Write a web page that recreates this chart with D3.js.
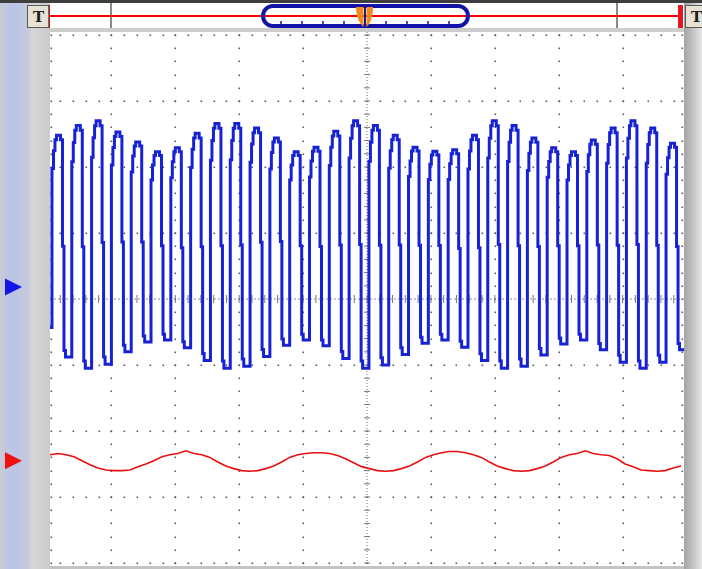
<!DOCTYPE html>
<html>
<head>
<meta charset="utf-8">
<script src="https://cdn.jsdelivr.net/npm/d3@7"></script>
<style>
  html, body { margin: 0; padding: 0; background: #d0d0d0; }
  svg { display: block; }
</style>
</head>
<body>
<svg id="scope" width="702" height="569"></svg>
<script>
// Channel A (blue): one entry per pulse, divisions relative to the channel marker
const pulseRise = [0.07, 0.38, 0.69, 1.00, 1.31, 1.62, 1.93, 2.24, 2.55, 2.86, 3.17, 3.48, 3.79, 4.10, 4.41, 4.72,
  5.03, 5.34, 5.65, 5.96, 6.27, 6.58, 6.89, 7.20, 7.51, 7.82, 8.13, 8.44, 8.75, 9.06, 9.37, 9.68]
const pulseTop = [2.30, 2.45, 2.52, 2.35, 2.20, 2.05, 2.11, 2.33, 2.48, 2.48, 2.41, 2.26, 2.05, 2.12, 2.36, 2.52,
  2.45, 2.30, 2.12, 2.06, 2.08, 2.30, 2.52, 2.45, 2.26, 2.11, 2.05, 2.23, 2.41, 2.52, 2.41, 2.18]
const pulseBottom = [-1.06, -1.23, -1.17, -0.98, -0.83, -0.80, -0.92, -1.11, -1.23, -1.20, -1.05, -0.88, -0.80, -0.89, -1.08, -1.23,
  -1.18, -1.02, -0.85, -0.80, -0.91, -1.11, -1.23, -1.20, -1.03, -0.86, -0.80, -0.95, -1.14, -1.23, -1.14, -0.95]
const blueLead = -0.61
const blueOffset = 0.18

// Channel B (red): samples every redDt divisions starting at redT0
const redT0 = 0.04
const redDt = 0.125
const redSamples = [
  0.09, 0.11, 0.09, 0.06, 0.00, -0.06, -0.11, -0.14, -0.15, -0.15,
  -0.14, -0.09, -0.05, 0.00, 0.06, 0.09, 0.11, 0.15, 0.11, 0.09,
  0.05, -0.02, -0.08, -0.12, -0.15, -0.16, -0.15, -0.12, -0.08, -0.02,
  0.05, 0.09, 0.11, 0.12, 0.12, 0.11, 0.08, 0.03, -0.03, -0.09,
  -0.12, -0.15, -0.16, -0.15, -0.12, -0.08, -0.02, 0.05, 0.09, 0.12,
  0.14, 0.14, 0.12, 0.09, 0.05, -0.02, -0.08, -0.12, -0.15, -0.16,
  -0.15, -0.12, -0.08, -0.02, 0.05, 0.09, 0.11, 0.15, 0.11, 0.09,
  0.08, 0.03, -0.05, -0.09, -0.14, -0.15, -0.16, -0.15, -0.11, -0.08]
const redOffset = -2.45

// Ruler ticks of the timebase bar (divisions of the ruler)
const rulerTicks = [1, 2, 3, 4, 6, 7, 8, 9]

const W = 702, H = 569
const plot = { left: 50, right: 684, top: 32, bottom: 566 }

const x = d3.scaleLinear().domain([0, 10]).range([47.5, 686.5])
const y = d3.scaleLinear().domain([-4, 4]).range([563, 35])
const ruler = d3.scaleLinear().domain([0, 10]).range([260, 470])

const svg = d3.select("#scope")
const defs = svg.append("defs")

// Gradients for the window chrome
const leftGrad = defs.append("linearGradient").attr("id", "leftGrad")
;[[0, "#cacad0"], [0.08, "#c2c8e0"], [0.25, "#bcc4e6"], [0.55, "#c4cadc"], [0.65, "#d6d6d8"], [1, "#cbcbcb"]]
  .forEach(([o, c]) => leftGrad.append("stop").attr("offset", o).attr("stop-color", c))
const rightGrad = defs.append("linearGradient").attr("id", "rightGrad")
;[[0, "#a4a4a4"], [0.4, "#bdbdbd"], [1, "#e6e6e6"]]
  .forEach(([o, c]) => rightGrad.append("stop").attr("offset", o).attr("stop-color", c))

defs.append("clipPath").attr("id", "plotClip")
  .append("rect")
  .attr("x", plot.left).attr("y", plot.top)
  .attr("width", plot.right - plot.left).attr("height", plot.bottom - plot.top)

// Frame
svg.append("rect").attr("width", W).attr("height", H).attr("fill", "#cccccc")
svg.append("rect").attr("x", 0).attr("y", 3).attr("width", plot.left).attr("height", H - 3).attr("fill", "url(#leftGrad)")
svg.append("rect").attr("x", plot.right).attr("y", 3).attr("width", W - plot.right).attr("height", H - 3).attr("fill", "url(#rightGrad)")
svg.append("rect").attr("x", 0).attr("y", 0).attr("width", W).attr("height", 3).attr("fill", "#3e3e3e")
svg.append("rect").attr("x", plot.left).attr("y", 3).attr("width", plot.right - plot.left).attr("height", 25).attr("fill", "#ffffff")
svg.append("rect").attr("x", plot.left).attr("y", 28).attr("width", plot.right - plot.left).attr("height", 4).attr("fill", "#cdcdcd")
svg.append("rect").attr("x", plot.left).attr("y", plot.bottom).attr("width", plot.right - plot.left).attr("height", H - plot.bottom).attr("fill", "#c4c4c4")
svg.append("rect")
  .attr("x", plot.left).attr("y", plot.top)
  .attr("width", plot.right - plot.left).attr("height", plot.bottom - plot.top)
  .attr("fill", "#ffffff")

// Top timebase bar
const bar = svg.append("g")
bar.selectAll("line.sep")
  .data([111, 617])
  .join("line")
  .attr("x1", d => d).attr("x2", d => d)
  .attr("y1", 3).attr("y2", 28)
  .attr("stroke", "#8a8a8a").attr("stroke-width", 2)
bar.append("line")
  .attr("x1", plot.left).attr("x2", 680)
  .attr("y1", 16).attr("y2", 16)
  .attr("stroke", "#ff0000").attr("stroke-width", 2.2)
bar.append("rect")
  .attr("x", 678).attr("y", 5).attr("width", 5).attr("height", 23)
  .attr("fill", "#e8141e")
bar.append("rect")
  .attr("x", ruler(0) + 3).attr("y", 6)
  .attr("width", ruler(10) - ruler(0) - 5).attr("height", 20)
  .attr("rx", 10).attr("ry", 10)
  .attr("fill", "none").attr("stroke", "#1212a6").attr("stroke-width", 4)
bar.selectAll("line.rtick")
  .data(rulerTicks)
  .join("line")
  .attr("x1", d => ruler(d)).attr("x2", d => ruler(d))
  .attr("y1", 21).attr("y2", 25)
  .attr("stroke", "#1212a6").attr("stroke-width", 1.5)

// Trigger position marker
const cx = ruler(5)
bar.append("path")
  .attr("d", `M${cx - 9},7 L${cx - 1.5},7 L${cx - 1.5},27 C${cx - 5},24 ${cx - 9},17 ${cx - 9},7 Z`)
  .attr("fill", "#f28a1e")
bar.append("path")
  .attr("d", `M${cx + 8},7 L${cx + 1.5},7 L${cx + 1.5},27 C${cx + 5},24 ${cx + 8},17 ${cx + 8},7 Z`)
  .attr("fill", "#f28a1e")
bar.append("line")
  .attr("x1", cx).attr("x2", cx).attr("y1", 8).attr("y2", 25)
  .attr("stroke", "#1a1a8a").attr("stroke-width", 2)

// "T" buttons
const buttons = [{ x: 27, w: 22 }, { x: 685, w: 20 }]
buttons.forEach(b => {
  svg.append("rect")
    .attr("x", b.x + 0.5).attr("y", 5.5).attr("width", b.w).attr("height", 22)
    .attr("fill", "#e6e2d4").attr("stroke", "#5a5a5a").attr("stroke-width", 1)
  svg.append("text")
    .attr("x", b.x + 11.5).attr("y", 22)
    .attr("text-anchor", "middle")
    .attr("font-family", "DejaVu Serif").attr("font-size", 15).attr("font-weight", "bold")
    .attr("fill", "#202020")
    .text("T")
})
svg.append("line")
  .attr("x1", 49).attr("x2", 49).attr("y1", 5).attr("y2", 28)
  .attr("stroke", "#9a2020").attr("stroke-width", 1.5)

// Graticule
const grid = svg.append("g").attr("clip-path", "url(#plotClip)")
const minorX = d3.range(0, 51).map(i => i / 5)
const minorY = d3.range(0, 41).map(i => i / 5 - 4)
const dotColor = "#5c5c5c"

const vDots = []
d3.range(1, 10).filter(i => i !== 5).forEach(i => minorY.forEach(v => vDots.push([x(i), y(v)])))
;[plot.left + 1, plot.right - 2].forEach(px => minorY.forEach(v => vDots.push([px, y(v)])))
d3.range(-4, 5).filter(r => r !== 0).forEach(r => minorX.forEach(t => vDots.push([x(t), y(r)])))

grid.selectAll("rect.dot")
  .data(vDots)
  .join("rect")
  .attr("x", d => Math.round(d[0]) - 0.5).attr("y", d => Math.round(d[1]) - 0.5)
  .attr("width", 1.6).attr("height", 1.6)
  .attr("fill", dotColor)

// Center axes with ticks
grid.append("line")
  .attr("x1", x(5)).attr("x2", x(5)).attr("y1", plot.top).attr("y2", plot.bottom)
  .attr("stroke", "#6a6a6a").attr("stroke-dasharray", "1,2")
grid.append("line")
  .attr("x1", plot.left).attr("x2", plot.right).attr("y1", y(0)).attr("y2", y(0))
  .attr("stroke", "#8a8a8a").attr("stroke-dasharray", "2,2")
grid.selectAll("line.xt")
  .data(minorX)
  .join("line")
  .attr("x1", d => x(d)).attr("x2", d => x(d))
  .attr("y1", y(0) - 4).attr("y2", y(0) + 4)
  .attr("stroke", "#777").attr("stroke-width", 1)
grid.selectAll("line.yt")
  .data(minorY)
  .join("line")
  .attr("x1", x(5) - 3).attr("x2", x(5) + 3)
  .attr("y1", d => y(d)).attr("y2", d => y(d))
  .attr("stroke", "#777").attr("stroke-width", 1)

// Channel B trace
const traces = svg.append("g").attr("clip-path", "url(#plotClip)")
const redLine = d3.line()
  .x((d, i) => x(redT0 + i * redDt))
  .y(d => y(d + redOffset))
traces.append("path")
  .attr("d", redLine(redSamples))
  .attr("fill", "none").attr("stroke", "#e81010").attr("stroke-width", 1.6)

// Channel A trace: each pulse is drawn as a sampled square step
const pulseShape = [[0, 0.15], [1.5, 0.15], [1.5, 0.07], [3, 0.07], [3, 0.02], [4.5, 0.02], [4.5, 0],
  [8.5, 0], [8.5, 0.02], [10.5, 0.02], [10.5, 0.5], [12, 0.5], [12, 0.97], [13.5, 0.97], [13.5, 1]]

function bluePath() {
  const p = d3.path()
  const by = v => y(v + blueOffset)
  let level = by(blueLead)
  p.moveTo(plot.left - 4, level)
  pulseRise.forEach((t, k) => {
    const xr = x(t)
    const top = by(pulseTop[k])
    const bot = by(pulseBottom[k])
    const h = bot - top
    p.lineTo(xr, level)
    pulseShape.forEach(([dx, f]) => p.lineTo(xr + dx, top + f * h))
    level = bot
  })
  p.lineTo(plot.right + 4, level)
  return p.toString()
}

traces.append("path")
  .attr("d", bluePath())
  .attr("fill", "none").attr("stroke", "#1622d4").attr("stroke-width", 3)
  .attr("stroke-linejoin", "miter")

// Channel markers on the left
const markers = [{ v: blueOffset, color: "#1414e6" }, { v: redOffset, color: "#f01010" }]
svg.selectAll("path.marker")
  .data(markers)
  .join("path")
  .attr("d", d => `M5,${y(d.v) - 8.5} L22,${y(d.v)} L5,${y(d.v) + 8.5} Z`)
  .attr("fill", d => d.color)
</script>
</body>
</html>
